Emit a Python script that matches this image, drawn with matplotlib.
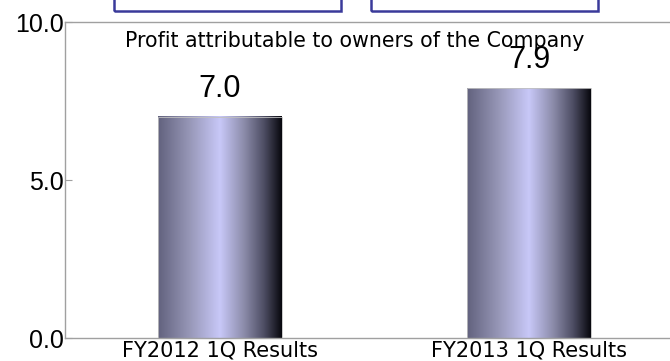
import numpy as np
import matplotlib
matplotlib.use('Agg')
import matplotlib.pyplot as plt
from matplotlib.colors import LinearSegmentedColormap
from matplotlib.patches import Rectangle

categories = ['FY2012 1Q Results', 'FY2013 1Q Results']
values = [7.0, 7.9]
labels = ['7.0', '7.9']
title = 'Profit attributable to owners of the Company'

W, H = 670, 361
fig = plt.figure(figsize=(W / 100, H / 100), dpi=100)
# axes: left 65px, top 22px, bottom 338px, right runs a bit past the edge
ax = fig.add_axes([65 / W, (H - 338) / H, (684 - 65) / W, (338 - 22) / H])

x = np.arange(len(categories))
bars = ax.bar(x, values, width=0.4, color='none', edgecolor='#c0c0c0', linewidth=0.6, zorder=3)

# horizontal metallic gradient in each bar
cmap = LinearSegmentedColormap.from_list('metal', [
    (0.0, '#62627e'), (0.25, '#9696b6'), (0.5, '#c8c8f8'),
    (0.7, '#8a8aa8'), (0.86, '#4c4c62'), (1.0, '#08080e')])
grad = np.linspace(0, 1, 256).reshape(1, -1)
for b in bars:
    ax.imshow(grad, cmap=cmap, aspect='auto', zorder=2,
              extent=(b.get_x(), b.get_x() + b.get_width(), 0, b.get_height()))

for xi, v, lab in zip(x, values, labels):
    ax.annotate(lab, (xi, v), xytext=(0, 14.4), textcoords='offset points',
                ha='center', va='baseline', fontsize=22, family='Liberation Sans')

ax.set_xlim(-0.5, 1.5)
ax.set_ylim(0, 10)
ax.set_yticks([0, 5, 10])
ax.set_yticklabels(['0.0', '5.0', '10.0'], family='Liberation Sans', fontsize=18)
ax.set_xticks(x)
ax.set_xticklabels(categories, family='DejaVu Sans', fontsize=15)
ax.tick_params(axis='y', direction='in', length=5, color='#a0a0a0', pad=1)
ax.tick_params(axis='x', length=0, pad=2)
for s in ['left', 'bottom', 'top']:
    ax.spines[s].set_color('#a0a0a0')
    ax.spines[s].set_linewidth(1.0)
ax.spines['right'].set_visible(False)

fig.text(355 / W, 1 - 47 / H, title, ha='center', va='baseline',
         fontsize=14.8, family='DejaVu Sans')

# two framed boxes cut off at the top edge
for x0, x1 in [(114, 341), (371, 598)]:
    fig.patches.append(Rectangle((x0 / W, 1 - 11 / H), (x1 - x0) / W, 0.2,
                                 transform=fig.transFigure, fill=False,
                                 edgecolor='#3a3a9a', linewidth=1.8))

fig.savefig('out.png', dpi=100)
